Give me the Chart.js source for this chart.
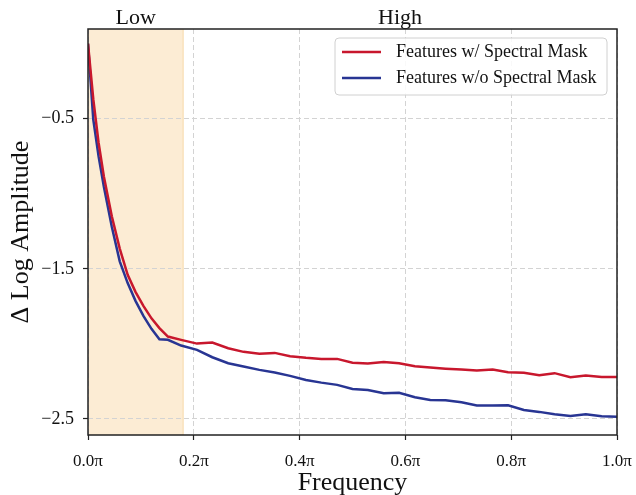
<!DOCTYPE html>
<html>
<head>
<meta charset="utf-8">
<script src="https://cdn.jsdelivr.net/npm/chart.js@4"></script>
<style>
  html, body { margin: 0; padding: 0; background: #fff; }
  #wrap { width: 636px; height: 495px; }
</style>
</head>
<body>
<div id="wrap"><canvas id="chart" width="636" height="495"></canvas></div>
<script>
// frequency bins (fraction of pi); denser where the curves bend
const freq = [0, 0.01, 0.02, 0.03, 0.045, 0.06, 0.075, 0.09, 0.105, 0.12, 0.135, 0.151,
  0.176, 0.206, 0.235, 0.265, 0.294, 0.324, 0.353, 0.382, 0.412, 0.441, 0.471, 0.5, 0.529,
  0.559, 0.588, 0.618, 0.647, 0.676, 0.706, 0.735, 0.765, 0.794, 0.824, 0.853, 0.882,
  0.912, 0.941, 0.971, 1.0];

const withMask = [0.0, -0.37, -0.66, -0.885, -1.15, -1.365, -1.54, -1.655, -1.748, -1.83,
  -1.895, -1.951, -1.973, -1.998, -1.991, -2.029, -2.053, -2.065, -2.06, -2.082, -2.093,
  -2.10, -2.10, -2.125, -2.131, -2.12, -2.129, -2.149, -2.158, -2.165, -2.171, -2.178,
  -2.171, -2.189, -2.193, -2.209, -2.195, -2.222, -2.211, -2.22, -2.22];

const withoutMask = [0.0, -0.505, -0.75, -0.953, -1.22, -1.45, -1.595, -1.715, -1.815, -1.9,
  -1.969, -1.973, -2.011, -2.04, -2.089, -2.129, -2.151, -2.173, -2.191, -2.213, -2.24,
  -2.258, -2.273, -2.30, -2.307, -2.329, -2.325, -2.355, -2.373, -2.375, -2.389, -2.411,
  -2.411, -2.409, -2.44, -2.453, -2.469, -2.48, -2.469, -2.482, -2.485];

const seriesNames = ["Features w/ Spectral Mask", "Features w/o Spectral Mask"];
const xTicks = [0, 0.2, 0.4, 0.6, 0.8, 1.0];
const yTicks = [-2.5, -1.5, -0.5];
const lowBand = [0, 0.18];
const bandNames = ["Low", "High"];

const RED = "#c8172d";
const BLUE = "#283593";
const SERIF = "'Liberation Serif', 'DejaVu Serif', serif";

Chart.defaults.font.family = SERIF;
Chart.defaults.color = "#111";

function toPoints(vals) {
  return vals.map((v, i) => ({ x: freq[i], y: v }));
}

const decorPlugin = {
  id: "decor",
  beforeDraw(chart) {
    const { ctx, chartArea, scales } = chart;
    const x0 = scales.x.getPixelForValue(lowBand[0]);
    const x1 = scales.x.getPixelForValue(lowBand[1]);
    ctx.save();
    ctx.fillStyle = "rgba(240,170,60,0.22)";
    ctx.fillRect(x0, chartArea.top, x1 - x0, chartArea.bottom - chartArea.top);
    ctx.strokeStyle = "rgba(240,170,60,0.35)";
    ctx.lineWidth = 1;
    ctx.beginPath();
    ctx.moveTo(x1, chartArea.top);
    ctx.lineTo(x1, chartArea.bottom);
    ctx.stroke();
    ctx.restore();
  },
  afterDatasetsDraw(chart) {
    const { ctx, chartArea, scales } = chart;
    ctx.save();
    // axes box
    ctx.strokeStyle = "#222";
    ctx.lineWidth = 1.5;
    ctx.strokeRect(chartArea.left, chartArea.top, chartArea.right - chartArea.left, chartArea.bottom - chartArea.top);

    // band labels above plot
    ctx.fillStyle = "#111";
    ctx.font = "22px " + SERIF;
    ctx.textAlign = "center";
    ctx.textBaseline = "alphabetic";
    const lowMid = (lowBand[0] + lowBand[1]) / 2;
    const highMid = (lowBand[1] + 1) / 2;
    ctx.fillText(bandNames[0], scales.x.getPixelForValue(lowMid), 24);
    ctx.fillText(bandNames[1], scales.x.getPixelForValue(highMid), 24);

    // legend
    const lx = 335, ly = 38, lw = 272, lh = 57;
    ctx.fillStyle = "rgba(255,255,255,0.85)";
    ctx.strokeStyle = "#d0d0d0";
    ctx.lineWidth = 1;
    ctx.beginPath();
    ctx.roundRect(lx, ly, lw, lh, 4);
    ctx.fill();
    ctx.stroke();
    ctx.font = "18px " + SERIF;
    ctx.textAlign = "left";
    ctx.textBaseline = "middle";
    chart.data.datasets.forEach((ds, i) => {
      const yy = 52 + i * 26;
      ctx.strokeStyle = ds.borderColor;
      ctx.lineWidth = 2.5;
      ctx.beginPath();
      ctx.moveTo(342, yy);
      ctx.lineTo(381, yy);
      ctx.stroke();
      ctx.fillStyle = "#111";
      ctx.fillText(ds.label, 396, yy);
    });
    ctx.restore();
  }
};

new Chart(document.getElementById("chart"), {
  type: "line",
  data: {
    datasets: [
      { label: seriesNames[0], data: toPoints(withMask), borderColor: RED, borderWidth: 2.5,
        pointRadius: 0, tension: 0, fill: false },
      { label: seriesNames[1], data: toPoints(withoutMask), borderColor: BLUE, borderWidth: 2.5,
        pointRadius: 0, tension: 0, fill: false }
    ]
  },
  options: {
    responsive: false,
    animation: false,
    layout: { padding: { top: 29, right: 19, left: 0, bottom: 0 } },
    plugins: { legend: { display: false }, tooltip: { enabled: false } },
    scales: {
      x: {
        type: "linear",
        min: 0,
        max: 1,
        afterBuildTicks: (s) => { s.ticks = xTicks.map(v => ({ value: v })); },
        afterFit: (s) => { s.height = 60; s.paddingLeft = 0; s.paddingRight = 0; },
        ticks: {
          font: { size: 17 },
          color: "#111",
          padding: 11,
          maxRotation: 0,
          callback: (v) => v.toFixed(1) + "π"
        },
        grid: { color: "#d3d3d3", lineWidth: 1, tickColor: "#222", tickLength: 5, tickWidth: 1.2, tickBorderDash: [] },
        border: { display: false, dash: [5, 3] },
        title: { display: true, text: "Frequency", font: { size: 26 }, color: "#111", padding: { top: 0, bottom: -3.5 } }
      },
      y: {
        min: -2.607,
        max: 0.098,
        afterBuildTicks: (s) => { s.ticks = yTicks.map(v => ({ value: v })); },
        afterFit: (s) => { s.width = 88; s.paddingTop = 0; s.paddingBottom = 0; },
        ticks: {
          font: { size: 18 },
          color: "#111",
          padding: 9,
          callback: (v) => (v < 0 ? "\u2212" : "") + Math.abs(v).toFixed(1)
        },
        grid: { color: "#d3d3d3", lineWidth: 1, tickColor: "#222", tickLength: 5, tickWidth: 1.2, tickBorderDash: [] },
        border: { display: false, dash: [5, 3] },
        title: { display: true, text: "Δ Log Amplitude", font: { size: 26 }, color: "#111", padding: { top: 6, bottom: 0 } }
      }
    }
  },
  plugins: [decorPlugin]
});
</script>
</body>
</html>
